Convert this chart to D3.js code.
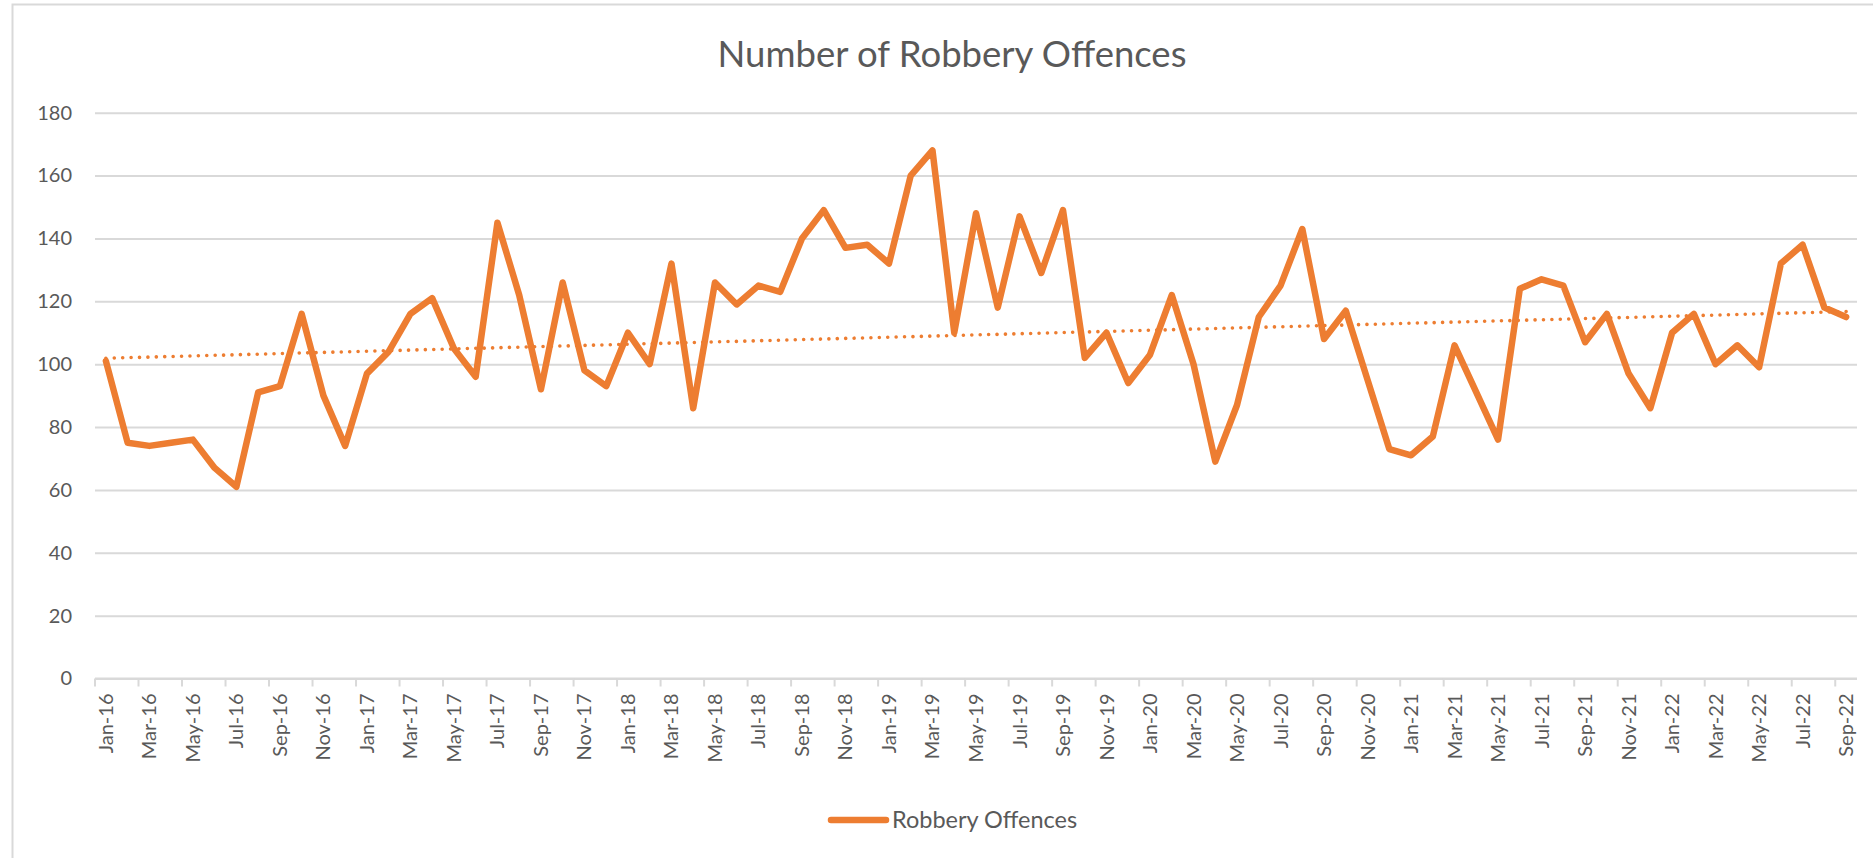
<!DOCTYPE html>
<html>
<head>
<meta charset="utf-8">
<script src="https://cdn.jsdelivr.net/npm/d3@7"></script>
<style>
  html, body { margin: 0; padding: 0; background: #ffffff; }
  svg { display: block; }
  text { font-family: Lato, "Open Sans", sans-serif; fill: #595959; }
</style>
</head>
<body>
<svg id="chart" width="1873" height="858"></svg>
<script>
const title = "Number of Robbery Offences";
const seriesName = "Robbery Offences";
const categories = [
  "Jan-16","Feb-16","Mar-16","Apr-16","May-16","Jun-16","Jul-16","Aug-16","Sep-16","Oct-16","Nov-16","Dec-16",
  "Jan-17","Feb-17","Mar-17","Apr-17","May-17","Jun-17","Jul-17","Aug-17","Sep-17","Oct-17","Nov-17","Dec-17",
  "Jan-18","Feb-18","Mar-18","Apr-18","May-18","Jun-18","Jul-18","Aug-18","Sep-18","Oct-18","Nov-18","Dec-18",
  "Jan-19","Feb-19","Mar-19","Apr-19","May-19","Jun-19","Jul-19","Aug-19","Sep-19","Oct-19","Nov-19","Dec-19",
  "Jan-20","Feb-20","Mar-20","Apr-20","May-20","Jun-20","Jul-20","Aug-20","Sep-20","Oct-20","Nov-20","Dec-20",
  "Jan-21","Feb-21","Mar-21","Apr-21","May-21","Jun-21","Jul-21","Aug-21","Sep-21","Oct-21","Nov-21","Dec-21",
  "Jan-22","Feb-22","Mar-22","Apr-22","May-22","Jun-22","Jul-22","Aug-22","Sep-22"
];
const values = [
  101,75,74,75,76,67,61,91,93,116,90,74,
  97,104,116,121,105,96,145,122,92,126,98,93,
  110,100,132,86,126,119,125,123,140,149,137,138,
  132,160,168,110,148,118,147,129,149,102,110,94,
  103,122,100,69,87,115,125,143,108,117,95,73,
  71,77,106,91,76,124,127,125,107,116,97,86,
  110,116,100,106,99,132,138,118,115
];
const yTicks = [0,20,40,60,80,100,120,140,160,180];

const svg = d3.select("#chart");
const plot = { left: 95, right: 1857, top: 112.7, bottom: 678.5 };
const orange = "#ED7D31";
const grid = "#d9d9d9";

// chart frame
svg.append("path")
  .attr("d", `M12.5,858 L12.5,4.5 L1873,4.5`)
  .attr("fill", "none").attr("stroke", grid).attr("stroke-width", 2);

const x = d3.scaleBand().domain(categories).range([plot.left, plot.right]).padding(0);
const y = d3.scaleLinear().domain([0, 180]).range([plot.bottom, plot.top]);
const cx = d => x(d) + x.bandwidth() / 2;

// title
svg.append("text")
  .attr("x", 952).attr("y", 66.5)
  .attr("text-anchor", "middle")
  .style("font-size", "36.5px")
  .text(title);

// gridlines + y labels
const yAxis = d3.axisLeft(y).tickValues(yTicks).tickSize(-(plot.right - plot.left)).tickPadding(23);
const gy = svg.append("g").attr("transform", `translate(${plot.left},0)`).call(yAxis);
gy.select(".domain").remove();
gy.selectAll(".tick line").attr("stroke", grid).attr("stroke-width", 2);
gy.selectAll(".tick text").attr("fill", "#595959").style("font-size", "20px").style("font-family", "Lato, sans-serif");

// x axis
const tickCats = categories.filter((d, i) => i % 2 === 0);
const gx = svg.append("g").attr("transform", `translate(0,${plot.bottom})`);
gx.append("line").attr("x1", plot.left).attr("x2", plot.right).attr("y1", 0).attr("y2", 0)
  .attr("stroke", grid).attr("stroke-width", 2);
gx.selectAll("line.tk").data(tickCats).join("line").attr("class", "tk")
  .attr("x1", d => x(d)).attr("x2", d => x(d)).attr("y1", 0).attr("y2", 8)
  .attr("stroke", grid).attr("stroke-width", 2);
gx.selectAll("text.lbl").data(tickCats).join("text").attr("class", "lbl")
  .attr("transform", d => `translate(${cx(d)},${15}) rotate(-90)`)
  .attr("text-anchor", "end").attr("dy", "0.35em")
  .style("font-size", "20px")
  .text(d => d);

// trendline (least squares)
const n = values.length;
const xs = d3.range(1, n + 1);
const mx = d3.mean(xs), my = d3.mean(values);
const slope = d3.sum(xs, (xi, i) => (xi - mx) * (values[i] - my)) / d3.sum(xs, xi => (xi - mx) ** 2);
const intercept = my - slope * mx;
const trend = categories.map((c, i) => ({ c, v: intercept + slope * (i + 1) }));
svg.append("path").datum([trend[0], trend[n - 1]])
  .attr("fill", "none").attr("stroke", orange).attr("stroke-width", 3.6)
  .attr("stroke-linecap", "round").attr("stroke-dasharray", "0.01 8.4")
  .attr("d", d3.line().x(d => cx(d.c)).y(d => y(d.v)));

// main line
const pts = categories.map((c, i) => ({ c, v: values[i] }));
svg.append("path").datum(pts)
  .attr("fill", "none").attr("stroke", orange).attr("stroke-width", 6.5)
  .attr("stroke-linejoin", "round").attr("stroke-linecap", "round")
  .attr("d", d3.line().x(d => cx(d.c)).y(d => y(d.v)));

// legend
svg.append("line").attr("x1", 831).attr("x2", 886).attr("y1", 820).attr("y2", 820)
  .attr("stroke", orange).attr("stroke-width", 6.5).attr("stroke-linecap", "round");
svg.append("text").attr("x", 892).attr("y", 828).style("font-size", "23.5px").text(seriesName);
</script>
</body>
</html>
